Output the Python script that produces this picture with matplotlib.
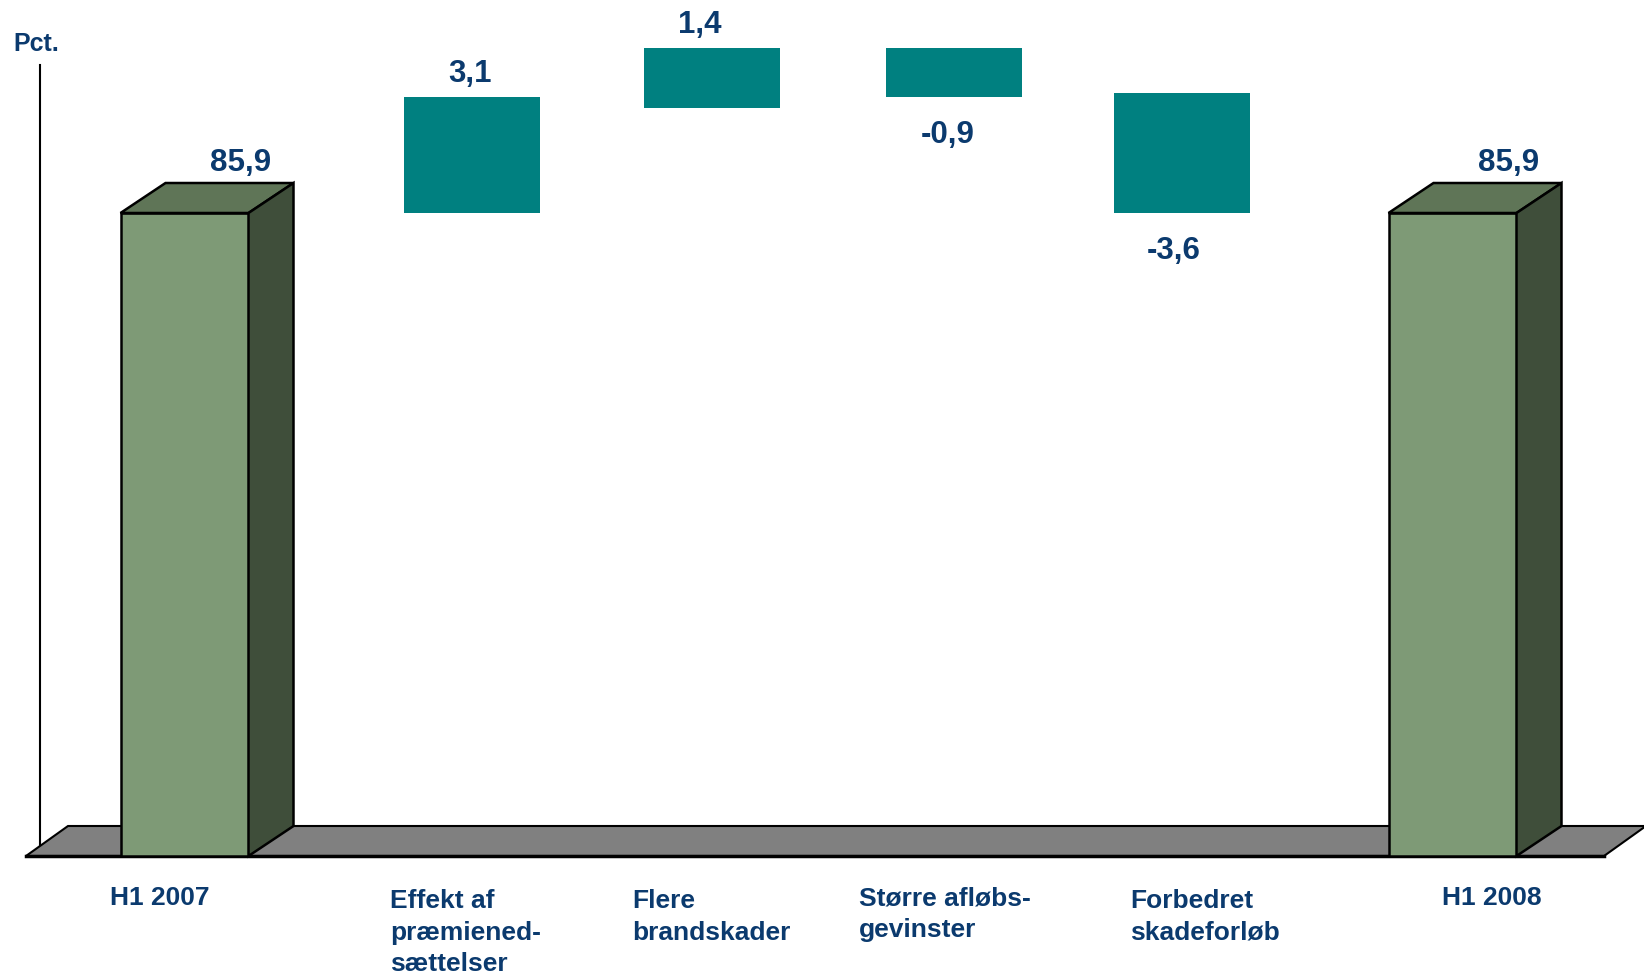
import matplotlib
matplotlib.use("Agg")
import matplotlib.pyplot as plt
from matplotlib.patches import Polygon

# ---------------- data ----------------
categories = ["H1 2007", "Effekt af\npræmiened-\nsættelser", "Flere\nbrandskader",
              "Større afløbs-\ngevinster", "Forbedret\nskadeforløb", "H1 2008"]
totals = [85.9, 85.9]                 # H1 2007, H1 2008
total_labels = ["85,9", "85,9"]
changes = [3.1, 1.4, -0.9, -3.6]      # bridge items
change_labels = ["3,1", "1,4", "-0,9", "-3,6"]
# floating bars as drawn in the chart's enlarged bridge scale
bridge_low = [85.9, 88.7, 89.0, 85.9]
bridge_high = [89.0, 90.3, 90.3, 89.1]
unit_label = "Pct."

# ---------------- layout / style ----------------
W, H, DPI = 1644, 975, 100
TXT = "#0B3A6E"
TEAL = "#008080"
G_FRONT, G_TOP, G_SIDE = "#7E9A76", "#5F7557", "#3F4E3A"
FLOOR = "#808080"
FONT = "Liberation Sans"

total_slots = [0.0, 5.0]
bridge_slots = [1.134, 2.080, 3.034, 3.933]
bridge_label_dx = [-2, -12, -6, -8]   # px nudges of value labels
x0_px, sx = 184.5, 253.6          # px of slot 0, px per slot
base_px, top_px = 119, 762        # baseline & 85.9 level (from bottom)
sy = (top_px - base_px) / totals[0]
sy2 = 37.5                        # px per unit, bridge scale

fig = plt.figure(figsize=(W / DPI, H / DPI), dpi=DPI)
ax = fig.add_axes([0, 0, 1, 1])
ax.set_xlim(-x0_px / sx, (W - x0_px) / sx)
ax.set_ylim(-base_px / sy, (H - base_px) / sy)
ax.axis("off")

ddx, ddy = 45 / sx, 30 / sy       # 3D depth in data units

# vertical axis line
ax.plot([(40 - x0_px) / sx] * 2, [8 / sy, (H - 65 - base_px) / sy],
        color="black", lw=1.5, zorder=1)

# floor
fl, fr = (26 - x0_px) / sx, (1604 - x0_px) / sx
floor = Polygon([(fl, 0), (fr, 0), (fr + 42 / sx, ddy), (fl + 42 / sx, ddy)],
                closed=True, facecolor=FLOOR, edgecolor="black", lw=1.5, zorder=2)
ax.add_patch(floor)
ax.plot([fl, fr], [0, 0], color="black", lw=2.5, zorder=2.5)

# green 3D total bars
w = 128 / sx
ax.bar(total_slots, totals, width=w, color=G_FRONT, edgecolor="black", lw=1.8, zorder=3)
for x, v, lab in zip(total_slots, totals, total_labels):
    top = Polygon([(x - w / 2, v), (x + w / 2, v), (x + w / 2 + ddx, v + ddy),
                   (x - w / 2 + ddx, v + ddy)], closed=True,
                  facecolor=G_TOP, edgecolor="black", lw=1.8, zorder=3)
    side = Polygon([(x + w / 2, 0), (x + w / 2 + ddx, ddy), (x + w / 2 + ddx, v + ddy),
                    (x + w / 2, v)], closed=True,
                   facecolor=G_SIDE, edgecolor="black", lw=1.8, zorder=3)
    ax.add_patch(top)
    ax.add_patch(side)
    ax.annotate(lab, xy=(x, v), xytext=(56, 50), textcoords="offset pixels",
                ha="center", va="center", fontsize=22.5, fontweight="bold",
                color=TXT, family=FONT, zorder=5)

# bridge bars on enlarged scale
ax2 = fig.add_axes([0, 0, 1, 1], sharex=ax)
ax2.set_ylim(totals[0] - top_px / sy2, totals[0] + (H - top_px) / sy2)
ax2.axis("off")
ax2.patch.set_alpha(0)
heights = [h - l for l, h in zip(bridge_low, bridge_high)]
ax2.bar(bridge_slots, heights, bottom=bridge_low, width=136 / sx, color=TEAL, zorder=3)
for x, c, l, h, lab, dx in zip(bridge_slots, changes, bridge_low, bridge_high,
                               change_labels, bridge_label_dx):
    if c >= 0:
        ax2.annotate(lab, xy=(x, h), xytext=(dx, 23), textcoords="offset pixels",
                     ha="center", va="center", fontsize=22.5, fontweight="bold",
                     color=TXT, family=FONT)
    else:
        ax2.annotate(lab, xy=(x, l), xytext=(dx, -38), textcoords="offset pixels",
                     ha="center", va="center", fontsize=22.5, fontweight="bold",
                     color=TXT, family=FONT)

# unit label
fig.text(13 / W, 1 - 44 / H, unit_label, ha="left", va="center", fontsize=18,
         fontweight="bold", color=TXT, family=FONT)

# category labels
label_left_px = [110, 390, 632, 859, 1130, 1442]
label_top_px = [886, 889, 889, 886, 889, 886]
for lab, lx, ly in zip(categories, label_left_px, label_top_px):
    fig.text(lx / W, 1 - ly / H, lab, ha="left", va="top", fontsize=19,
             fontweight="bold", color=TXT, family=FONT, linespacing=1.4)

fig.savefig("out.png", dpi=DPI)
